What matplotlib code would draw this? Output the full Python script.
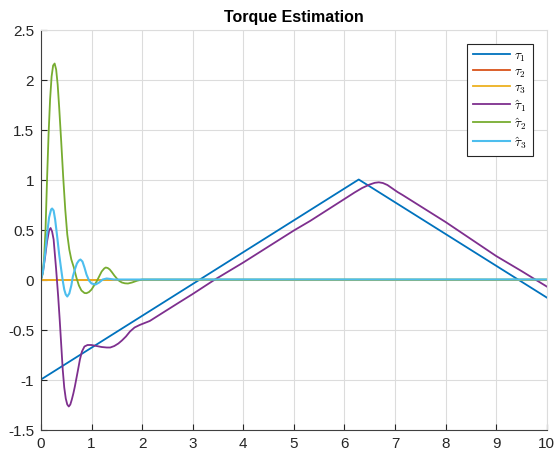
import matplotlib
matplotlib.use('Agg')
import matplotlib.pyplot as plt
import numpy as np

plt.rcParams['font.family'] = ['Liberation Sans', 'DejaVu Sans']
plt.rcParams['mathtext.fontset'] = 'cm'

# reference torque tau1 (triangle), tau2 and tau3 are zero
t_tau1 = [0.0, 6.283, 10.0]
tau1 = [-1.0, 1.0, -0.18]
t_zero = [0.0, 10.0]
tau2 = [0.0, 0.0]
tau3 = [0.0, 0.0]

# estimated torques
t_hat1 = [0.0, 0.04, 0.08, 0.12, 0.16, 0.19, 0.22, 0.25, 0.28, 0.3, 0.34, 0.37,
          0.4, 0.43, 0.46, 0.49, 0.52, 0.55, 0.58, 0.61, 0.64, 0.67, 0.7, 0.73,
          0.77, 0.81, 0.86, 0.92, 1.0, 1.1, 1.2, 1.3, 1.37, 1.45, 1.53, 1.6, 1.68,
          1.76, 1.85, 1.95, 2.05, 2.15, 2.4, 2.73, 3.0, 3.44, 4.0, 5.0, 5.32, 6.0,
          6.2, 6.35, 6.5, 6.6, 6.68, 6.76, 6.85, 6.95, 7.05, 7.15, 8.0, 9.0, 9.5,
          10.0]
tau1_hat = [0.0, 0.08, 0.22, 0.38, 0.49, 0.515, 0.48, 0.4, 0.22, 0.1, -0.17, -0.4,
            -0.65, -0.9, -1.08, -1.19, -1.25, -1.27, -1.25, -1.2, -1.14, -1.07,
            -0.99, -0.91, -0.8, -0.72, -0.67, -0.655, -0.655, -0.665, -0.675,
            -0.68, -0.68, -0.665, -0.64, -0.61, -0.57, -0.52, -0.48, -0.455,
            -0.435, -0.415, -0.335, -0.23, -0.145, 0.0, 0.17, 0.49, 0.585, 0.805,
            0.87, 0.915, 0.95, 0.967, 0.972, 0.965, 0.945, 0.91, 0.875, 0.845,
            0.575, 0.235, 0.085, -0.07]

t_hat2 = [0.0, 0.03, 0.06, 0.09, 0.12, 0.15, 0.18, 0.21, 0.24, 0.27, 0.3, 0.33,
          0.36, 0.4, 0.44, 0.48, 0.52, 0.56, 0.6, 0.65, 0.7, 0.75, 0.8, 0.86, 0.9,
          0.95, 1.0, 1.05, 1.1, 1.15, 1.2, 1.25, 1.28, 1.32, 1.36, 1.4, 1.45, 1.5,
          1.55, 1.6, 1.66, 1.72, 1.8, 1.9, 2.0, 10.0]
tau2_hat = [0.0, 0.05, 0.2, 0.5, 1.0, 1.45, 1.8, 2.03, 2.14, 2.16, 2.1, 1.95,
            1.72, 1.38, 1.02, 0.7, 0.45, 0.3, 0.2, 0.12, 0.02, -0.06, -0.11,
            -0.135, -0.137, -0.125, -0.1, -0.06, -0.02, 0.03, 0.08, 0.11, 0.12,
            0.115, 0.1, 0.075, 0.04, 0.01, -0.015, -0.03, -0.038, -0.04, -0.03,
            -0.012, 0.0, 0.0]

t_hat3 = [0.0, 0.04, 0.08, 0.12, 0.16, 0.2, 0.22, 0.25, 0.28, 0.32, 0.36, 0.4,
          0.43, 0.46, 0.49, 0.52, 0.56, 0.6, 0.63, 0.67, 0.71, 0.75, 0.78, 0.82,
          0.86, 0.9, 0.95, 1.0, 1.08, 1.15, 1.22, 1.3, 1.45, 10.0]
tau3_hat = [0.0, 0.08, 0.25, 0.45, 0.62, 0.7, 0.71, 0.69, 0.6, 0.43, 0.25, 0.1,
            -0.01, -0.1, -0.15, -0.17, -0.14, -0.06, 0.03, 0.1, 0.16, 0.19, 0.2,
            0.18, 0.12, 0.05, -0.01, -0.04, -0.05, -0.03, 0.0, 0.01, 0.0, 0.0]

fig = plt.figure(figsize=(5.56, 4.56), dpi=100)
ax = fig.add_axes([0.0737, 0.0559, 0.9096, 0.8772])

ax.plot(t_tau1, tau1, color='#0072BD', lw=1.3, label=r'$\tau_1$')
ax.plot(t_zero, tau2, color='#D95319', lw=1.3, label=r'$\tau_2$')
ax.plot(t_zero, tau3, color='#EDB120', lw=1.3, label=r'$\tau_3$')
ax.plot(t_hat1, tau1_hat, color='#7E2F8E', lw=1.3, label=r'$\hat{\tau}_1$')
ax.plot(t_hat2, tau2_hat, color='#77AC30', lw=1.3, label=r'$\hat{\tau}_2$')
ax.plot(t_hat3, tau3_hat, color='#4DBEEE', lw=1.5, label=r'$\hat{\tau}_3$')

ax.set_xlim(0, 10)
ax.set_ylim(-1.5, 2.5)
ax.set_xticks(np.arange(0, 11, 1))
ax.set_yticks(np.arange(-1.5, 2.51, 0.5))
ax.set_yticklabels(['-1.5', '-1', '-0.5', '0', '0.5', '1', '1.5', '2', '2.5'])
ax.grid(True, color='#dcdcdc', lw=0.8)
ax.set_axisbelow(True)
ax.tick_params(direction='in', length=4, labelsize=11, colors='#262626', pad=5)
for s in ['left', 'bottom']:
    ax.spines[s].set_color('#404040')
for s in ['top', 'right']:
    ax.spines[s].set_color('#dcdcdc')

ax.set_title('Torque Estimation', fontsize=11.5, fontweight='bold', pad=6)

leg = ax.legend(loc='upper right', bbox_to_anchor=(0.972, 0.965), fontsize=9.5,
                fancybox=False, edgecolor='#262626', framealpha=1,
                handlelength=2.8, labelspacing=0.18, handletextpad=0.3,
                borderpad=0.45, borderaxespad=0)
leg.get_frame().set_linewidth(0.8)

fig.savefig('out.png', dpi=100)
